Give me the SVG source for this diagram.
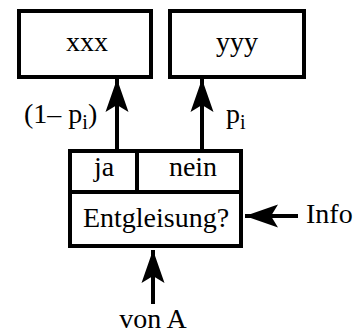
<svg xmlns="http://www.w3.org/2000/svg" width="356" height="333" viewBox="0 0 356 333">
<style>
.box{fill:#fff;stroke:#000;stroke-width:4}
.ln{stroke:#000;stroke-width:4;fill:none}
text{font-family:'Liberation Serif','Times New Roman',serif;font-size:28px;fill:#000}
.m{text-anchor:middle}
.sub{font-size:20px}
</style>
<defs>
<marker id="ah" markerUnits="userSpaceOnUse" viewBox="0 0 34 24" refX="33" refY="12" markerWidth="34" markerHeight="24" orient="auto">
<path d="M33,12 L0,0.5 L7,12 L0,23.5 Z" fill="#000"/>
</marker>
</defs>
<rect width="356" height="333" fill="#fff"/>
<g id="xxx">
<rect class="box" x="19" y="11" width="132" height="66"/>
<text class="m" x="87" y="51">xxx</text>
</g>
<g id="yyy">
<rect class="box" x="170" y="11" width="134" height="66"/>
<text class="m" x="237" y="51">yyy</text>
</g>
<g id="entgleisung">
<rect class="box" x="70" y="151" width="171" height="95"/>
<line class="ln" x1="70" y1="192" x2="241" y2="192"/>
<line class="ln" x1="137" y1="151" x2="137" y2="192"/>
<text class="m" x="104" y="176">ja</text>
<text class="m" x="193" y="176">nein</text>
<text class="m" x="156" y="227">Entgleisung?</text>
</g>
<g id="labels">
<text x="24" y="123">(1– p<tspan class="sub" dy="6">i</tspan><tspan dy="-6">)</tspan></text>
<text x="226" y="123">p<tspan class="sub" dy="6">i</tspan></text>
<text x="306" y="223">Info</text>
<text class="m" x="153" y="328">von A</text>
</g>
<g id="connectors">
<line class="ln" x1="117" y1="151" x2="117" y2="79" marker-end="url(#ah)"/>
<line class="ln" x1="202" y1="151" x2="202" y2="79" marker-end="url(#ah)"/>
<line class="ln" x1="298" y1="216" x2="245" y2="216" marker-end="url(#ah)"/>
<line class="ln" x1="153" y1="304" x2="153" y2="250" marker-end="url(#ah)"/>
</g>
</svg>
